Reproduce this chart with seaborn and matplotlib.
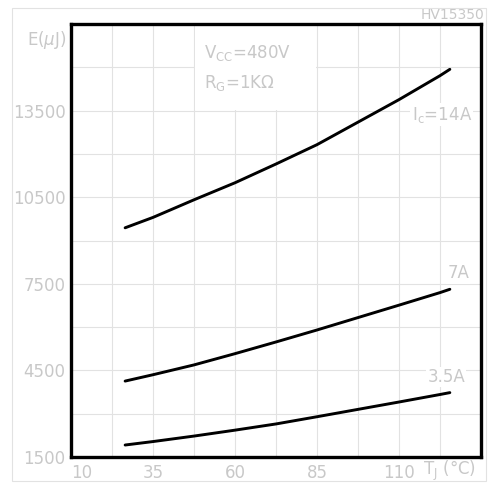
import numpy as np
import pandas as pd
import matplotlib
matplotlib.use("Agg")
import matplotlib.pyplot as plt
import seaborn as sns
from matplotlib.patches import Rectangle

# Values (Tj in degC, E in uJ)
tj = [26.5, 35, 47.5, 60, 72.5, 85, 97.5, 110, 122.5, 125.5]
e_14a = [9440, 9800, 10410, 11000, 11650, 12320, 13100, 13880, 14710, 14930]
e_7a = [4130, 4350, 4690, 5080, 5485, 5900, 6330, 6760, 7195, 7310]
e_3p5a = [1915, 2035, 2225, 2430, 2645, 2895, 3150, 3405, 3665, 3730]

x_ticks = [10, 35, 60, 85, 110]
y_ticks = [1500, 4500, 7500, 10500, 13500]

df = pd.DataFrame({
    "Tj": tj * 3,
    "E": e_14a + e_7a + e_3p5a,
    "Ic": ["14A"] * len(tj) + ["7A"] * len(tj) + ["3.5A"] * len(tj),
})

sns.set_style("white")
plt.rcParams["font.family"] = ["DejaVu Sans"]
txt = "#c8c8c8"
grid = "#e2e2e2"

fig = plt.figure(figsize=(4.95, 4.83), dpi=100)
ax = fig.add_axes([71 / 495, 1 - 457 / 483, 410 / 495, 433 / 483])

sns.lineplot(data=df, x="Tj", y="E", units="Ic", estimator=None,
             color="black", lw=2.1, ax=ax, zorder=3)

ax.set_xlim(10, 135)
ax.set_ylim(1500, 16500)
ax.set_xticks(x_ticks)
ax.set_xticks(np.arange(10, 136, 12.5), minor=True)
ax.set_yticks(y_ticks)
ax.set_yticks(np.arange(1500, 16501, 1500), minor=True)
ax.grid(True, which="both", color=grid, lw=0.8)
ax.set_axisbelow(True)
ax.tick_params(which="both", length=0, labelsize=12, labelcolor=txt)
ax.tick_params(axis="x", pad=5)
ax.tick_params(axis="y", pad=4)
ax.xaxis.get_majorticklabels()[0].set_ha("left")
ax.set_xlabel("")
ax.set_ylabel("")
for s in ax.spines.values():
    s.set_color("black")
    s.set_linewidth(2.4)

# blank block behind the test conditions
ax.add_patch(Rectangle((47.7, 13530), 37.1, 3000, fc="white", ec="none", zorder=1))

ax.text(0.325, 0.9215, "V$_\\mathregular{CC}$=480V", transform=ax.transAxes,
        fontsize=12, color=txt, ha="left", va="baseline")
ax.text(0.325, 0.852, "R$_\\mathregular{G}$=1K\u03a9", transform=ax.transAxes,
        fontsize=12, color=txt, ha="left", va="baseline")

box = dict(fc="white", ec="none", pad=1)
ax.text(0.978, 0.779, "I$_\\mathregular{c}$=14A", transform=ax.transAxes,
        fontsize=12, color=txt, ha="right", va="baseline", bbox=box, zorder=2)
ax.text(0.971, 0.413, "7A", transform=ax.transAxes,
        fontsize=12, color=txt, ha="right", va="baseline", bbox=box, zorder=2)
ax.text(0.961, 0.173, "3.5A", transform=ax.transAxes,
        fontsize=12, color=txt, ha="right", va="baseline", bbox=box, zorder=2)

ax.text(-0.012, 0.963, "E($\\mu$J)", transform=ax.transAxes,
        fontsize=12, color=txt, ha="right", va="center")
ax.text(0.859, -0.033, "T$_\\mathregular{J}$ (\u00b0C)", transform=ax.transAxes,
        fontsize=12, color=txt, ha="left", va="center", clip_on=False)

fig.add_artist(Rectangle((12 / 495, 1 - 481 / 483), 474 / 495, 473 / 483,
                         transform=fig.transFigure, fill=False,
                         ec="#e2e2e2", lw=0.8))
fig.text(484 / 495, 1 - 15 / 483, "HV15350", fontsize=10, color=txt,
         ha="right", va="center")

fig.savefig("out.png", dpi=100)
